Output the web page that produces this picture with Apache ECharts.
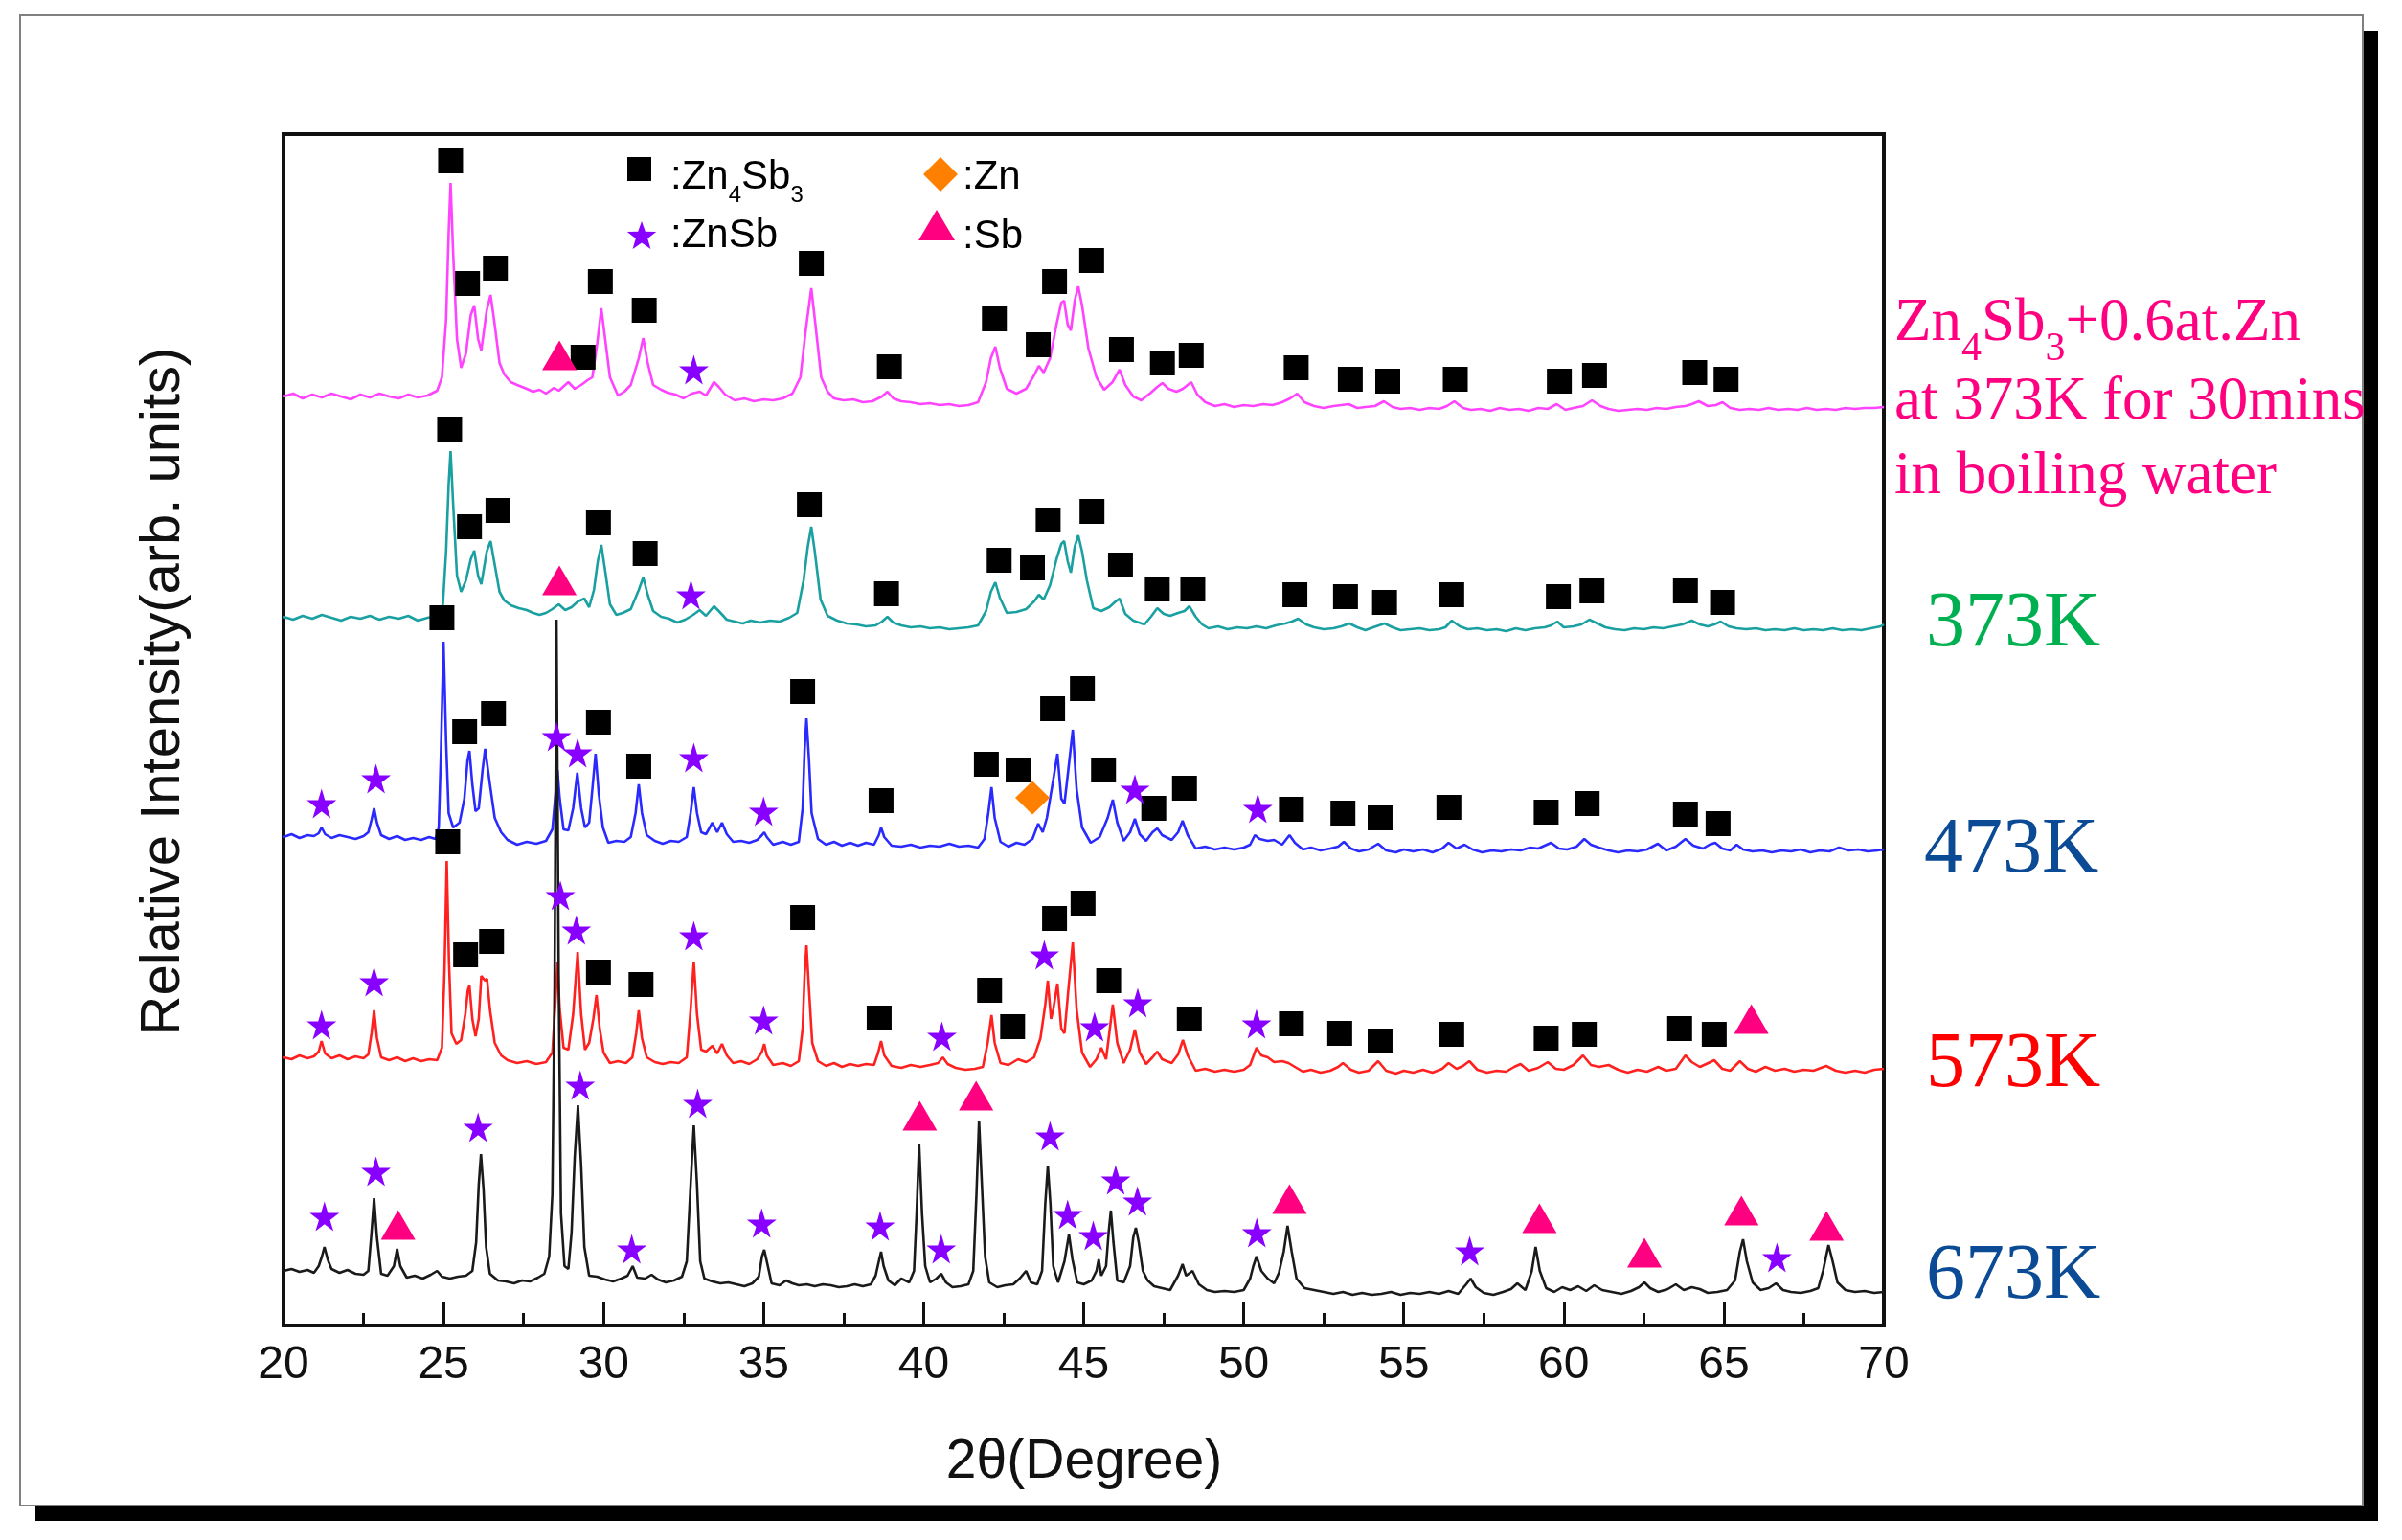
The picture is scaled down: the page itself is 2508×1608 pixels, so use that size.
<!DOCTYPE html>
<html><head><meta charset="utf-8">
<script src="https://cdn.jsdelivr.net/npm/echarts/dist/echarts.min.js"></script>
<style>html,body{margin:0;padding:0;background:#fff}#c{width:2508px;height:1608px}</style>
</head><body><div id="c"></div>
<script>
// ---- DATA ----
const xTicks = [20, 25, 30, 35, 40, 45, 50, 55, 60, 65, 70];
const traceNames = ['Zn4Sb3+0.6at.Zn 373K 30mins boiling water', '373K', '473K', '573K', '673K'];
const traceOffsets = [970, 738, 510, 280, 57];

const traceBoiled = [[20.0,0],[20.3,3],[20.6,-2],[20.9,2],[21.2,-1],[21.5,3],[21.8,0],[22.1,-3],[22.4,2],[22.7,-1],[23.0,3],[23.3,0],[23.6,-2],[23.9,2],[24.2,-1],[24.5,1],[24.8,6],
[24.95,20],[25.08,80],[25.16,170],[25.22,223],[25.3,150],[25.42,60],[25.55,30],[25.7,45],[25.85,85],[25.96,95],[26.08,60],[26.18,48],[26.35,90],[26.47,106],[26.58,80],[26.75,35],[26.9,23],
[27.1,15],[27.3,12],[27.6,8],[27.8,5],[28.0,7],[28.2,3],[28.45,9],[28.6,6],[28.9,15],[29.1,8],[29.3,12],[29.5,17],[29.65,20],[29.8,55],[29.93,92],[30.05,60],[30.2,20],[30.45,1],[30.65,5],[30.85,12],
[31.1,40],[31.24,61],[31.38,35],[31.55,12],[31.8,7],[32.0,4],[32.25,2],[32.5,-2],[32.75,3],[33.01,5],[33.2,1],[33.45,15],[33.6,10],[33.8,2],[34.1,-4],[34.4,-2],[34.7,-5],[35.0,-3],[35.3,-4],[35.6,-2],
[35.9,3],[36.15,20],[36.32,70],[36.49,113],[36.62,75],[36.8,20],[37.0,5],[37.2,-2],[37.5,-4],[37.8,-3],[38.1,-6],[38.4,-5],[38.7,0],[38.87,5],[39.05,-2],[39.3,-5],[39.6,-6],[39.9,-8],[40.2,-7],[40.5,-9],
[40.8,-8],[41.1,-10],[41.4,-9],[41.7,-6],[41.95,15],[42.1,40],[42.24,52],[42.38,30],[42.6,8],[42.9,3],[43.2,8],[43.45,22],[43.6,32],[43.75,25],[43.95,40],[44.15,75],[44.3,98],[44.39,100],[44.5,75],
[44.6,69],[44.72,100],[44.83,115],[44.95,95],[45.15,50],[45.4,20],[45.64,7],[45.9,15],[46.12,28],[46.3,12],[46.55,0],[46.8,-4],[47.1,4],[47.3,10],[47.46,14],[47.65,8],[47.9,5],[48.1,8],[48.36,15],
[48.55,2],[48.8,-6],[49.1,-10],[49.4,-8],[49.7,-11],[50.0,-9],[50.3,-10],[50.6,-8],[50.9,-9],[51.2,-6],[51.45,-2],[51.67,3],[51.9,-6],[52.2,-10],[52.5,-12],[52.8,-10],[53.05,-9],[53.28,-8],[53.55,-12],
[53.8,-11],[54.1,-10],[54.38,-5],[54.65,-11],[54.9,-13],[55.2,-12],[55.5,-14],[55.8,-12],[56.1,-13],[56.35,-10],[56.58,-5],[56.85,-12],[57.1,-14],[57.4,-13],[57.7,-15],[58.0,-12],[58.3,-14],[58.6,-13],
[58.9,-15],[59.2,-12],[59.5,-13],[59.78,-8],[60.05,-14],[60.3,-12],[60.6,-10],[60.88,-4],[61.15,-10],[61.4,-13],[61.7,-15],[62.0,-14],[62.3,-13],[62.6,-14],[62.9,-12],[63.2,-13],[63.5,-11],[63.8,-10],
[64.0,-8],[64.22,-5],[64.5,-10],[64.75,-9],[64.96,-6],[65.2,-12],[65.5,-14],[65.8,-13],[66.1,-14],[66.4,-12],[66.7,-14],[67.0,-13],[67.3,-14],[67.6,-12],[67.9,-14],[68.2,-13],[68.5,-14],[68.8,-12],
[69.1,-13],[69.4,-12],[69.7,-12],[70.0,-11]];

const trace373 = [[20.0,2],[20.3,-1],[20.6,3],[20.9,0],[21.2,4],[21.5,1],[21.8,-2],[22.1,2],[22.4,0],[22.7,3],[23.0,-1],[23.3,2],[23.6,0],[23.9,3],[24.2,-2],[24.5,1],[24.8,3],[24.98,15],[25.08,70],
[25.16,140],[25.22,175],[25.3,120],[25.42,45],[25.55,28],[25.7,40],[25.85,62],[25.96,71],[26.08,45],[26.18,36],[26.35,70],[26.47,81],[26.58,60],[26.75,28],[26.9,19],[27.1,14],[27.35,11],[27.6,9],
[27.8,6],[28.0,4],[28.2,6],[28.4,10],[28.6,15],[28.8,9],[29.0,12],[29.2,18],[29.4,21],[29.55,12],[29.7,30],[29.82,60],[29.93,77],[30.05,50],[30.2,15],[30.4,4],[30.6,6],[30.85,10],[31.1,30],[31.24,43],
[31.38,25],[31.55,8],[31.8,2],[32.05,0],[32.3,-4],[32.55,-1],[32.8,4],[33.0,9],[33.2,3],[33.45,13],[33.6,8],[33.85,-1],[34.1,-3],[34.35,-5],[34.6,-2],[34.9,-4],[35.2,-2],[35.5,-3],[35.8,1],[36.05,6],
[36.25,40],[36.38,75],[36.49,96],[36.6,70],[36.78,20],[37.0,3],[37.3,-2],[37.6,-5],[37.9,-6],[38.2,-8],[38.5,-7],[38.7,-3],[38.87,2],[39.05,-4],[39.3,-7],[39.6,-9],[39.9,-8],[40.2,-10],[40.5,-9],
[40.8,-11],[41.1,-10],[41.4,-9],[41.7,-7],[41.95,8],[42.1,28],[42.24,38],[42.38,22],[42.6,6],[42.9,7],[43.2,10],[43.45,18],[43.6,25],[43.75,20],[43.95,35],[44.15,62],[44.3,78],[44.39,81],[44.5,60],
[44.6,48],[44.72,75],[44.83,87],[44.95,70],[45.1,40],[45.3,11],[45.55,8],[45.8,12],[46.0,18],[46.12,21],[46.3,5],[46.55,-2],[46.9,-6],[47.1,2],[47.3,11],[47.5,5],[47.7,3],[47.95,6],[48.15,8],[48.3,13],
[48.5,2],[48.7,-6],[48.9,-10],[49.2,-8],[49.5,-11],[49.8,-9],[50.1,-10],[50.4,-8],[50.7,-10],[51.0,-7],[51.3,-5],[51.5,-3],[51.7,0],[51.95,-6],[52.2,-9],[52.5,-11],[52.8,-10],[53.05,-8],[53.3,-5],
[53.55,-9],[53.8,-12],[54.05,-9],[54.4,-5],[54.65,-9],[54.9,-12],[55.2,-11],[55.5,-10],[55.8,-12],[56.1,-11],[56.3,-9],[56.5,-2],[56.75,-8],[57.0,-11],[57.3,-10],[57.6,-12],[57.9,-11],[58.2,-13],
[58.5,-10],[58.8,-12],[59.1,-10],[59.4,-9],[59.6,-7],[59.8,-3],[60.0,-9],[60.3,-8],[60.55,-6],[60.8,-1],[61.05,-5],[61.3,-9],[61.6,-11],[61.9,-12],[62.2,-10],[62.5,-11],[62.8,-9],[63.1,-10],[63.4,-8],
[63.7,-6],[64.0,-2],[64.25,-6],[64.5,-8],[64.7,-6],[64.9,-3],[65.15,-8],[65.4,-10],[65.7,-11],[66.0,-10],[66.3,-12],[66.6,-11],[66.9,-12],[67.2,-10],[67.5,-12],[67.8,-11],[68.1,-12],[68.4,-10],
[68.7,-12],[69.0,-11],[69.3,-12],[69.6,-10],[69.9,-8],[70.0,-6]];

const trace473 = [[20.0,0],[20.25,3],[20.5,-1],[20.75,2],[20.95,1],[21.1,4],[21.19,10],[21.3,3],[21.5,-1],[21.75,2],[22.0,0],[22.25,-2],[22.5,1],[22.65,5],[22.75,18],[22.83,30],[22.92,15],[23.05,2],
[23.3,-2],[23.55,1],[23.8,-3],[24.05,-1],[24.3,-3],[24.55,0],[24.75,-2],[24.85,10],[24.92,90],[25.0,204],[25.08,100],[25.16,25],[25.3,10],[25.5,15],[25.65,40],[25.75,80],[25.81,90],[25.9,55],[26.0,27],
[26.1,30],[26.22,70],[26.3,92],[26.35,90],[26.45,55],[26.6,20],[26.8,5],[27.0,-3],[27.3,-8],[27.6,-5],[27.9,-7],[28.2,-4],[28.4,8],[28.5,45],[28.56,70],[28.63,40],[28.75,8],[28.9,7],[29.05,30],
[29.18,67],[29.3,30],[29.42,10],[29.55,15],[29.65,50],[29.75,87],[29.85,45],[29.98,10],[30.15,-6],[30.4,-4],[30.65,-5],[30.85,0],[31.0,25],[31.1,55],[31.2,25],[31.35,2],[31.6,-4],[31.85,-7],[32.1,-4],
[32.35,-5],[32.6,0],[32.72,25],[32.82,52],[32.92,25],[33.05,5],[33.2,3],[33.4,15],[33.55,5],[33.7,15],[33.85,3],[34.05,-5],[34.3,-4],[34.55,-6],[34.8,-3],[34.95,2],[35.02,5],[35.1,0],[35.3,-8],
[35.6,-5],[35.85,-8],[36.1,-5],[36.22,30],[36.28,90],[36.34,124],[36.42,80],[36.5,25],[36.7,-2],[36.95,-8],[37.2,-5],[37.45,-9],[37.7,-6],[37.95,-9],[38.2,-6],[38.45,-8],[38.6,2],[38.67,10],[38.77,0],
[39.0,-9],[39.3,-10],[39.6,-8],[39.9,-11],[40.2,-9],[40.5,-10],[40.8,-7],[41.1,-10],[41.4,-9],[41.7,-11],[41.9,-2],[42.02,25],[42.12,52],[42.22,20],[42.4,-5],[42.65,-10],[42.9,-6],[43.15,-8],[43.4,-2],
[43.58,14],[43.72,5],[43.85,20],[44.05,60],[44.18,87],[44.3,40],[44.4,35],[44.52,70],[44.66,112],[44.78,50],[44.95,10],[45.22,-6],[45.5,0],[45.75,20],[45.91,39],[46.05,15],[46.25,-4],[46.45,5],[46.6,19],
[46.75,3],[46.95,-4],[47.15,5],[47.3,9],[47.45,2],[47.75,-3],[47.95,5],[48.09,17],[48.25,2],[48.5,-12],[48.8,-10],[49.1,-13],[49.4,-11],[49.7,-13],[50.0,-11],[50.2,-8],[50.35,2],[50.5,-2],[50.75,-4],
[50.95,-3],[51.2,-8],[51.43,2],[51.6,-6],[51.85,-13],[52.1,-11],[52.4,-14],[52.7,-12],[52.95,-10],[53.13,-5],[53.35,-12],[53.6,-15],[53.9,-13],[54.2,-7],[54.45,-14],[54.75,-16],[55.0,-13],[55.3,-15],
[55.6,-13],[55.9,-16],[56.2,-12],[56.4,-6],[56.65,-12],[56.9,-8],[57.15,-13],[57.45,-16],[57.75,-14],[58.05,-15],[58.35,-13],[58.65,-14],[58.95,-11],[59.2,-12],[59.6,-6],[59.85,-12],[60.1,-13],
[60.4,-10],[60.64,-2],[60.85,-8],[61.1,-11],[61.4,-14],[61.7,-16],[62.0,-14],[62.3,-15],[62.6,-13],[62.94,-7],[63.2,-14],[63.5,-10],[63.8,-2],[64.05,-9],[64.35,-12],[64.55,-8],[64.73,-6],[64.95,-12],
[65.2,-14],[65.4,-8],[65.6,-13],[65.9,-15],[66.2,-14],[66.5,-16],[66.8,-14],[67.1,-15],[67.4,-13],[67.7,-16],[68.0,-14],[68.3,-15],[68.6,-11],[68.9,-14],[69.2,-13],[69.5,-15],[69.8,-14],[70.0,-13]];

const trace573 = [[20.0,0],[20.25,-2],[20.5,2],[20.75,-1],[20.95,1],[21.1,6],[21.19,17],[21.3,4],[21.5,-1],[21.75,2],[22.0,-2],[22.25,1],[22.5,-1],[22.65,3],[22.75,25],[22.83,49],[22.92,20],[23.05,0],
[23.3,-3],[23.55,0],[23.8,-4],[24.05,-1],[24.3,-4],[24.55,-2],[24.8,-3],[24.95,10],[25.03,90],[25.1,205],[25.17,100],[25.25,25],[25.4,14],[25.55,18],[25.68,45],[25.76,70],[25.81,75],[25.9,40],[26.0,22],
[26.1,40],[26.18,85],[26.23,87],[26.3,80],[26.36,82],[26.45,50],[26.6,15],[26.8,2],[27.0,-3],[27.3,-6],[27.6,-4],[27.9,-7],[28.2,-5],[28.4,5],[28.5,60],[28.56,100],[28.63,50],[28.75,10],[28.9,8],
[29.05,45],[29.19,110],[29.3,45],[29.42,8],[29.55,15],[29.68,40],[29.78,65],[29.88,30],[30.0,5],[30.2,-6],[30.45,-4],[30.7,-6],[30.9,0],[31.02,25],[31.1,49],[31.2,20],[31.35,0],[31.6,-5],[31.85,-7],
[32.1,-5],[32.35,-6],[32.6,0],[32.72,50],[32.82,100],[32.92,45],[33.05,8],[33.2,6],[33.4,12],[33.55,4],[33.7,14],[33.85,2],[34.05,-6],[34.3,-4],[34.55,-7],[34.8,-2],[34.95,6],[35.02,14],[35.1,2],
[35.3,-8],[35.6,-6],[35.85,-9],[36.1,-4],[36.22,30],[36.28,85],[36.34,117],[36.42,70],[36.52,15],[36.7,-4],[36.95,-9],[37.2,-6],[37.45,-10],[37.7,-7],[37.95,-9],[38.2,-7],[38.45,-8],[38.58,5],[38.67,17],
[38.77,2],[39.0,-9],[39.3,-11],[39.6,-8],[39.9,-10],[40.2,-8],[40.45,-6],[40.6,0],[40.75,-7],[41.0,-11],[41.3,-13],[41.6,-12],[41.85,-10],[42.0,15],[42.12,44],[42.22,15],[42.4,-6],[42.65,-8],[42.95,-2],
[43.2,-5],[43.45,0],[43.65,20],[43.8,55],[43.88,80],[43.98,40],[44.05,50],[44.18,77],[44.3,30],[44.4,25],[44.52,70],[44.66,120],[44.78,50],[44.95,5],[45.2,-10],[45.4,-2],[45.55,10],[45.7,-2],[45.8,25],
[45.91,55],[46.05,15],[46.25,-6],[46.45,8],[46.6,29],[46.75,5],[46.95,-7],[47.15,0],[47.3,6],[47.45,-2],[47.75,-6],[47.95,3],[48.1,18],[48.25,2],[48.5,-14],[48.8,-12],[49.1,-15],[49.4,-13],[49.7,-15],
[50.0,-13],[50.2,-8],[50.4,10],[50.55,2],[50.75,0],[50.95,-5],[51.2,-4],[51.4,-6],[51.6,-10],[51.85,-15],[52.1,-13],[52.4,-16],[52.7,-14],[52.95,-10],[53.1,-6],[53.35,-13],[53.6,-16],[53.9,-14],
[54.2,-4],[54.45,-14],[54.75,-17],[55.0,-14],[55.3,-16],[55.6,-13],[55.9,-16],[56.2,-12],[56.4,-6],[56.65,-12],[56.85,-9],[57.05,-4],[57.3,-13],[57.6,-16],[57.9,-14],[58.2,-15],[58.45,-10],[58.65,-7],
[58.9,-14],[59.2,-11],[59.5,-5],[59.75,-12],[60.0,-13],[60.3,-8],[60.6,2],[60.85,-8],[61.1,-10],[61.4,-8],[61.7,-13],[62.0,-16],[62.3,-13],[62.6,-15],[62.95,-10],[63.2,-14],[63.5,-12],[63.8,2],
[64.0,-5],[64.25,-10],[64.45,-7],[64.7,-3],[64.95,-12],[65.2,-14],[65.5,-4],[65.75,-12],[66.0,-15],[66.3,-10],[66.6,-14],[66.9,-12],[67.2,-15],[67.5,-13],[67.8,-14],[68.2,-9],[68.5,-14],[68.8,-16],
[69.1,-14],[69.4,-16],[69.7,-13],[70.0,-12]];

const trace673 = [[20.0,0],[20.25,2],[20.5,-1],[20.75,1],[20.95,-2],[21.1,5],[21.2,15],[21.28,25],[21.38,12],[21.5,2],[21.75,-2],[22.0,1],[22.25,-3],[22.5,-4],[22.65,0],[22.75,40],[22.83,76],[22.92,35],
[23.05,-3],[23.25,-5],[23.45,5],[23.55,23],[23.65,5],[23.85,-7],[24.1,-5],[24.35,-8],[24.6,-4],[24.8,0],[24.95,-6],[25.2,-8],[25.45,-6],[25.7,-5],[25.9,0],[26.02,30],[26.1,90],[26.17,122],[26.25,85],
[26.33,25],[26.45,-3],[26.7,-10],[26.95,-11],[27.2,-13],[27.45,-10],[27.7,-11],[27.95,-7],[28.15,-3],[28.3,15],[28.4,80],[28.47,300],[28.53,680],[28.6,300],[28.67,60],[28.78,5],[28.9,2],[29.0,40],
[29.1,120],[29.2,173],[29.3,110],[29.4,25],[29.55,-5],[29.8,-6],[30.05,-9],[30.3,-11],[30.55,-8],[30.75,-5],[30.91,5],[31.05,-7],[31.3,-8],[31.5,-4],[31.7,-9],[31.95,-12],[32.2,-10],[32.45,-6],
[32.6,10],[32.72,90],[32.82,152],[32.92,90],[33.02,10],[33.15,-8],[33.4,-11],[33.65,-13],[33.9,-12],[34.15,-14],[34.4,-16],[34.65,-13],[34.85,-6],[34.95,15],[35.02,22],[35.1,10],[35.25,-13],
[35.5,-15],[35.7,-10],[35.9,-13],[36.1,-15],[36.35,-14],[36.6,-16],[36.85,-14],[37.1,-15],[37.35,-17],[37.6,-16],[37.85,-14],[38.1,-16],[38.35,-14],[38.5,-5],[38.6,10],[38.67,20],[38.75,5],[38.9,-10],
[39.1,-15],[39.3,-8],[39.55,-12],[39.7,0],[39.78,60],[39.86,133],[39.95,60],[40.05,5],[40.2,-12],[40.4,-8],[40.55,-3],[40.7,-12],[40.9,-17],[41.15,-16],[41.4,-14],[41.55,0],[41.65,80],[41.73,157],
[41.82,90],[41.92,15],[42.05,-12],[42.3,-17],[42.55,-15],[42.8,-14],[43.0,-8],[43.2,0],[43.35,-12],[43.55,-14],[43.7,0],[43.8,70],[43.88,110],[43.96,70],[44.05,5],[44.2,-12],[44.4,10],[44.54,38],
[44.65,12],[44.8,-12],[45.0,-14],[45.25,-10],[45.4,0],[45.47,12],[45.55,-5],[45.7,5],[45.78,40],[45.85,63],[45.93,30],[46.05,-10],[46.25,-12],[46.45,5],[46.55,35],[46.63,45],[46.72,30],[46.85,0],
[47.0,-10],[47.2,-16],[47.45,-18],[47.7,-20],[47.95,-5],[48.09,7],[48.2,-5],[48.4,0],[48.6,-14],[48.85,-20],[49.1,-22],[49.4,-21],[49.7,-22],[50.0,-20],[50.2,-8],[50.3,5],[50.4,15],[50.55,0],[50.75,-8],
[50.95,-13],[51.1,-2],[51.25,20],[51.37,47],[51.5,20],[51.65,-8],[51.9,-18],[52.2,-20],[52.5,-22],[52.8,-24],[53.1,-22],[53.4,-25],[53.7,-23],[54.0,-25],[54.3,-24],[54.6,-22],[54.9,-25],[55.2,-23],
[55.5,-24],[55.8,-22],[56.1,-24],[56.4,-21],[56.7,-24],[56.95,-14],[57.09,-8],[57.25,-17],[57.5,-23],[57.8,-25],[58.1,-22],[58.35,-19],[58.55,-13],[58.8,-20],[59.0,0],[59.12,25],[59.25,0],[59.45,-18],
[59.7,-22],[59.95,-17],[60.2,-20],[60.45,-16],[60.7,-21],[60.95,-15],[61.2,-20],[61.5,-22],[61.8,-24],[62.1,-21],[62.35,-17],[62.52,-12],[62.7,-18],[62.95,-22],[63.25,-19],[63.5,-14],[63.75,-20],
[64.0,-17],[64.25,-19],[64.5,-23],[64.8,-22],[65.1,-20],[65.35,-10],[65.5,20],[65.6,33],[65.72,10],[65.9,-12],[66.15,-20],[66.4,-18],[66.63,-13],[66.85,-20],[67.1,-22],[67.4,-23],[67.7,-21],
[67.95,-18],[68.1,0],[68.27,27],[68.4,10],[68.55,-12],[68.8,-20],[69.1,-22],[69.4,-21],[69.7,-23],[70.0,-22]];

// phase markers: [2theta, stacked height]
const zn4sb3Marks = [
 [25.22,1216],[25.75,1088],[26.62,1104],[29.36,1011],[29.9,1090],[31.27,1060],[36.49,1109],[38.93,1001],[42.21,1051],[43.58,1024],[44.09,1090],[45.25,1112],[46.18,1019],[47.46,1005],[48.36,1013],[51.64,1000],[53.33,988],[54.5,986],[56.61,988],[59.86,986],[60.96,992],[64.09,995],[65.07,988],
 [25.19,936],[25.81,834],[26.7,851],[29.84,838],[31.3,806],[36.43,857],[38.84,764],[42.36,799],[43.4,791],[43.89,841],[45.26,850],[46.15,794],[47.3,769],[48.41,769],[51.6,763],[53.18,761],[54.4,755],[56.5,763],[59.83,761],[60.88,767],[63.8,767],[64.96,755],
 [24.95,739],[25.66,620],[26.56,639],[29.84,630],[31.1,584],[36.22,662],[38.67,548],[41.96,586],[42.95,580],[44.03,644],[44.96,665],[45.62,580],[47.19,540],[48.15,561],[51.49,539],[53.1,535],[54.26,530],[56.41,541],[59.45,536],[60.73,545],[63.8,534],[64.82,524],
 [25.13,505],[25.69,387],[26.5,401],[29.84,369],[31.17,356],[36.22,426],[38.61,321],[42.06,350],[42.78,312],[44.09,425],[44.98,441],[45.78,360],[48.3,320],[51.49,315],[53.0,305],[54.26,297],[56.5,304],[59.45,300],[60.64,304],[63.62,310],[64.7,304]
];
const znsbMarks = [
 [32.82,998],
 [32.73,763],
 [21.19,545],[22.89,571],[28.53,615],[29.19,598],[32.82,593],[35.0,537],[46.6,560],[50.44,540],
 [21.19,314],[22.83,359],[28.65,449],[29.15,413],[32.82,407],[35.0,319],[40.57,302],[43.77,387],[45.34,312],[46.69,337],[50.4,315],
 [21.28,114],[22.89,161],[26.08,207],[29.27,251],[30.88,80],[32.94,232],[34.94,107],[38.64,104],[40.55,80],[43.95,198],[44.5,116],[45.3,94],[46.0,152],[46.68,130],[50.41,97],[57.06,78],[66.66,71]
];
const sbMarks = [
 [28.62,1013],
 [28.62,778],
 [65.86,320],
 [23.58,105],[39.88,219],[41.64,240],[51.43,132],[59.24,112],[62.52,76],[65.55,120],[68.21,104]
];
const znMarks = [[43.4,551]];

// ---- CHART ----
const traces = [traceBoiled, trace373, trace473, trace573, trace673];
const lineColors = ['#FF44FF', '#1AA0A0', '#2A2AFF', '#FF2020', '#1A1A1A'];
const starPath = 'path://M50,0 L61,35 L98,35 L68,57 L79,91 L50,70 L21,91 L32,57 L2,35 L39,35 Z';
const SANS = '"Liberation Sans", Arial, sans-serif';
const SERIF = '"Liberation Serif", "Times New Roman", serif';

const chart = echarts.init(document.getElementById('c'), null, {renderer: 'canvas'});

const series = traces.map((t, i) => ({
  name: traceNames[i], type: 'line', symbol: 'none', z: 2,
  lineStyle: {color: lineColors[i], width: 2.6}, itemStyle: {color: lineColors[i]},
  data: t.map(p => [p[0], p[1] + traceOffsets[i]])
}));
series.push(
  {name: 'Zn4Sb3', type: 'scatter', z: 5, symbol: 'rect', symbolSize: [26, 26], itemStyle: {color: '#000', opacity: 1}, data: zn4sb3Marks},
  {name: 'ZnSb', type: 'scatter', z: 5, symbol: starPath, symbolSize: [31, 31], itemStyle: {color: '#8800FF', opacity: 1}, data: znsbMarks},
  {name: 'Sb', type: 'scatter', z: 5, symbol: 'triangle', symbolSize: [36, 31], itemStyle: {color: '#FF0080', opacity: 1}, data: sbMarks},
  {name: 'Zn', type: 'scatter', z: 5, symbol: 'diamond', symbolSize: [36, 35], itemStyle: {color: '#FF8000', opacity: 1}, data: znMarks}
);

const legendRich = {
  a: {fontSize: 42, fontFamily: SANS, fill: '#000', lineHeight: 62, verticalAlign: 'middle'},
  s: {fontSize: 24, fontFamily: SANS, fill: '#000', lineHeight: 24, verticalAlign: 'bottom'}
};
const serifRich = {
  a: {fontSize: 63, fontFamily: SERIF, fill: '#FF0080', lineHeight: 96, verticalAlign: 'middle'},
  s: {fontSize: 42, fontFamily: SERIF, fill: '#FF0080', lineHeight: 42, verticalAlign: 'bottom'}
};
const starPts = [[670,231],[673.8,241.7],[685.2,242.1],[676.2,249],[679.4,259.9],[670,253.5],[660.6,259.9],[663.8,249],[654.8,242.1],[666.2,241.7]];

const graphic = [
  // outer frame with shadow
  {type: 'rect', z: 0, shape: {x: 37, y: 1573, width: 2446, height: 15}, style: {fill: '#000'}},
  {type: 'rect', z: 0, shape: {x: 2468, y: 32, width: 15, height: 1556}, style: {fill: '#000'}},
  {type: 'rect', z: 0, shape: {x: 21, y: 16, width: 2446, height: 1556}, style: {fill: 'none', stroke: '#808080', lineWidth: 2}},
  // axis titles
  {type: 'text', x: 171, y: 722, rotation: Math.PI / 2, style: {text: 'Relative Intensity(arb. units)', font: '58px ' + SANS, fill: '#111', align: 'center', verticalAlign: 'middle'}},
  {type: 'text', x: 1132, y: 1527, style: {text: '2θ(Degree)', font: '57px ' + SANS, fill: '#111', align: 'center', verticalAlign: 'middle'}},
  // legend
  {type: 'rect', shape: {x: 655, y: 164, width: 25, height: 25}, style: {fill: '#000'}},
  {type: 'text', x: 700, y: 185, style: {text: '{a|:Zn}{s|4}{a|Sb}{s|3}', rich: legendRich, align: 'left', verticalAlign: 'middle'}},
  {type: 'polygon', shape: {points: starPts}, style: {fill: '#8800FF'}},
  {type: 'text', x: 700, y: 246, style: {text: ':ZnSb', font: '42px ' + SANS, fill: '#000', align: 'left', verticalAlign: 'middle'}},
  {type: 'polygon', shape: {points: [[982, 164], [1000, 182], [982, 200], [964, 182]]}, style: {fill: '#FF8000'}},
  {type: 'text', x: 1005, y: 185, style: {text: ':Zn', font: '42px ' + SANS, fill: '#000', align: 'left', verticalAlign: 'middle'}},
  {type: 'polygon', shape: {points: [[978, 219], [997, 251], [959, 251]]}, style: {fill: '#FF0080'}},
  {type: 'text', x: 1005, y: 247, style: {text: ':Sb', font: '42px ' + SANS, fill: '#000', align: 'left', verticalAlign: 'middle'}},
  // right-side labels
  {type: 'text', x: 1978, y: 338, style: {text: '{a|Zn}{s|4}{a|Sb}{s|3}{a|+0.6at.Zn}', rich: serifRich, align: 'left', verticalAlign: 'middle'}},
  {type: 'text', x: 1978, y: 420, style: {text: 'at 373K for 30mins', font: '63px ' + SERIF, fill: '#FF0080', align: 'left', verticalAlign: 'middle'}},
  {type: 'text', x: 1978, y: 498, style: {text: 'in boiling water', font: '63px ' + SERIF, fill: '#FF0080', align: 'left', verticalAlign: 'middle'}},
  {type: 'text', x: 2011, y: 652, style: {text: traceNames[1], font: '82px ' + SERIF, fill: '#00B050', align: 'left', verticalAlign: 'middle'}},
  {type: 'text', x: 2009, y: 888, style: {text: traceNames[2], font: '82px ' + SERIF, fill: '#0B4A94', align: 'left', verticalAlign: 'middle'}},
  {type: 'text', x: 2011, y: 1112, style: {text: traceNames[3], font: '82px ' + SERIF, fill: '#FF0000', align: 'left', verticalAlign: 'middle'}},
  {type: 'text', x: 2011, y: 1333, style: {text: traceNames[4], font: '82px ' + SERIF, fill: '#0B4A94', align: 'left', verticalAlign: 'middle'}}
];

chart.setOption({
  animation: false,
  backgroundColor: '#fff',
  grid: {left: 296, right: 541, top: 140, bottom: 224, show: true, borderColor: '#111', borderWidth: 4, backgroundColor: 'transparent'},
  xAxis: {
    type: 'value', min: xTicks[0], max: xTicks[xTicks.length - 1], interval: xTicks[1] - xTicks[0],
    axisLine: {show: true, onZero: false, lineStyle: {color: '#111', width: 4}},
    axisTick: {show: true, inside: true, length: 24, lineStyle: {color: '#111', width: 3}},
    minorTick: {show: true, splitNumber: 2, length: 13, lineStyle: {color: '#111', width: 3}},
    axisLabel: {fontSize: 48, fontFamily: SANS, color: '#111', margin: 18},
    splitLine: {show: false}
  },
  yAxis: {type: 'value', min: 0, max: 1244, show: false, splitLine: {show: false}},
  series: series,
  graphic: graphic
});
</script></body></html>
